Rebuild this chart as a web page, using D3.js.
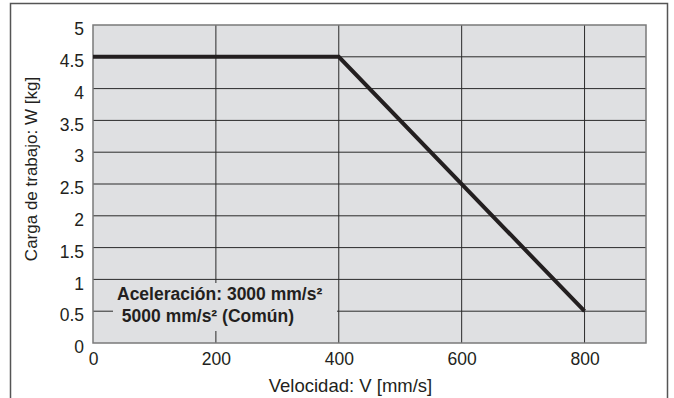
<!DOCTYPE html>
<html>
<head>
<meta charset="utf-8">
<script src="https://cdn.jsdelivr.net/npm/d3@7"></script>
<style>
  body { margin: 0; background: #fff; }
  svg { display: block; font-family: "Liberation Sans", Arial, sans-serif; }
</style>
</head>
<body>
<svg id="svg" width="674" height="398"></svg>
<script>
const xTicks = [0, 200, 400, 600, 800];
const yTicks = [0, 0.5, 1, 1.5, 2, 2.5, 3, 3.5, 4, 4.5, 5];
const speed = [0, 400, 800];
const load = [4.5, 4.5, 0.5];
const note = ["Aceleración: 3000 mm/s²", " 5000 mm/s² (Común)"];

const margin = {top: 25, left: 93, bottom: 55, right: 28};
const width = 674, height = 398;

const svg = d3.select("#svg");

const x = d3.scaleLinear().domain([0, 900]).range([margin.left, width - margin.right]);
const y = d3.scaleLinear().domain([0, 5]).range([height - margin.bottom, margin.top]);

// outer frame (open at the bottom)
svg.append("path")
    .attr("d", "M10.5,398 V3.5 H667.5 V398")
    .attr("fill", "none")
    .attr("stroke", "#555")
    .attr("stroke-width", 1.5);

svg.append("rect")
    .attr("x", x(0)).attr("y", y(5))
    .attr("width", x(900) - x(0)).attr("height", y(0) - y(5))
    .attr("fill", "#dfe0e2");

// grid
svg.append("g").selectAll("line").data(yTicks.slice(1, -1)).join("line")
    .attr("x1", x(0)).attr("x2", x(900))
    .attr("y1", d => y(d)).attr("y2", d => y(d))
    .attr("stroke", "#2a2a2a").attr("stroke-width", 1);

svg.append("g").selectAll("line").data(xTicks.slice(1)).join("line")
    .attr("x1", d => x(d)).attr("x2", d => x(d))
    .attr("y1", y(0)).attr("y2", y(5))
    .attr("stroke", "#2a2a2a").attr("stroke-width", 1);

svg.append("rect")
    .attr("x", x(0)).attr("y", y(5))
    .attr("width", x(900) - x(0)).attr("height", y(0) - y(5))
    .attr("fill", "none").attr("stroke", "#7a7a7a").attr("stroke-width", 1.5);

// axes (labels only)
const xAxisCall = d3.axisBottom(x).tickValues(xTicks).tickSize(0).tickPadding(10);
const yAxisCall = d3.axisLeft(y).tickValues(yTicks).tickSize(0).tickPadding(9)
    .tickFormat(d3.format("~g"));

const gx = svg.append("g").attr("transform", "translate(0," + y(0) + ")").call(xAxisCall);
const gy = svg.append("g").attr("transform", "translate(" + x(0) + ",0)").call(yAxisCall);
[gx, gy].forEach(g => {
    g.select(".domain").remove();
    g.selectAll("text").attr("font-size", 17.5).attr("fill", "#231f20")
        .attr("font-family", "Liberation Sans, Arial, sans-serif");
});
gy.selectAll("text").attr("dy", "0.55em");

svg.append("text")
    .attr("x", 350.5).attr("y", 392)
    .attr("text-anchor", "middle").attr("font-size", 18.5).attr("fill", "#231f20")
    .text("Velocidad: V [mm/s]");

svg.append("text")
    .attr("transform", "translate(37,169) rotate(-90)")
    .attr("text-anchor", "middle").attr("font-size", 17).attr("fill", "#231f20")
    .text("Carga de trabajo: W [kg]");

// note box
svg.append("rect")
    .attr("x", 113).attr("y", 283).attr("width", 224).attr("height", 48)
    .attr("fill", "#dfe0e2");

svg.append("g").selectAll("text").data(note).join("text")
    .attr("x", 117).attr("y", (d, i) => 300 + i * 22)
    .attr("font-size", 17.5).attr("font-weight", "bold").attr("fill", "#231f20")
    .attr("xml:space", "preserve")
    .text(d => d);

// load line
const pts = speed.map((s, i) => [s, load[i]]);
svg.append("path")
    .datum(pts)
    .attr("d", d3.line().x(d => x(d[0])).y(d => y(d[1])))
    .attr("fill", "none").attr("stroke", "#231f20").attr("stroke-width", 4)
    .attr("stroke-linejoin", "miter");
</script>
</body>
</html>
